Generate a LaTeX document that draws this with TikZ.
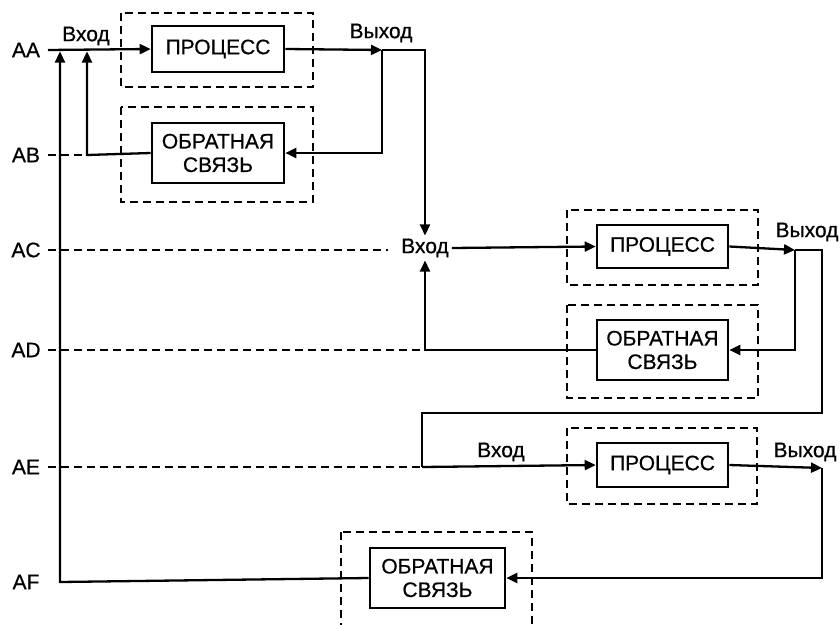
\documentclass[tikz,border=0pt]{standalone}
\usepackage{fontspec}
\setmainfont{Liberation Sans}[FakeBold=0.6]
\usetikzlibrary{arrows.meta}
\begin{document}
\begin{tikzpicture}[x=1pt,y=-1pt,
  every node/.style={font=\fontsize{21}{23}\selectfont},
  lbl/.style={inner sep=0pt},
  blockbox/.style={draw,line width=2.6pt,minimum width=132pt,align=center,inner sep=0pt,font=\fontsize{21}{23.5}\selectfont},
  frame/.style={draw,dash pattern=on 8pt off 5pt,line width=2pt},
  conn/.style={line width=2.3pt},
  dline/.style={line width=2pt,dash pattern=on 8pt off 5pt},
  tip/.style={-{Triangle[length=11pt,width=10pt]}}]
\useasboundingbox (0,0) rectangle (840,624);

% dashed frames round each block
\draw[frame] (121,13) rectangle (313,87);
\draw[frame] (121,107) rectangle (313,202);
\draw[frame] (567,210) rectangle (758,285);
\draw[frame] (567,305) rectangle (758,398);
\draw[frame] (567,428) rectangle (757,504);
\draw[frame] (341,532) rectangle (532,632);

% blocks
\node[blockbox,minimum height=46pt,fill=white] (p1) at (218,49) {ПРОЦЕСС};
\node[blockbox,minimum height=60pt,fill=white] (f1) at (218,153) {ОБРАТНАЯ\\СВЯЗЬ};
\node[blockbox,minimum width=131pt,minimum height=43pt,fill=white] (p2) at (662.5,246.5) {ПРОЦЕСС};
\node[blockbox,minimum width=131pt,minimum height=60pt,fill=white] (f2) at (662.5,350) {ОБРАТНАЯ\\СВЯЗЬ};
\node[blockbox,minimum width=131pt,minimum height=44pt,fill=white] (p3) at (662.5,465) {ПРОЦЕСС};
\node[blockbox,minimum width=135pt,minimum height=60pt,fill=white] (f3) at (437.5,578) {ОБРАТНАЯ\\СВЯЗЬ};

% row labels
\node[lbl] (la) at (26,50) {AA};
\node[lbl] (lb) at (26,155) {AB};
\node[lbl] (lc) at (26,250) {AC};
\node[lbl] (ld) at (26,350) {AD};
\node[lbl] (le) at (26,467) {AE};
\node[lbl] (lf) at (26,582) {AF};

% input / output labels
\node[lbl] (in1) at (86,36) {Вход};
\node[lbl] (out1) at (381,33) {Выход};
\node[lbl,inner sep=3pt] (in2) at (425,248) {Вход};
\node[lbl] (out2) at (807,232) {Выход};
\node[lbl] (in3) at (501,452) {Вход};
\node[lbl] (out3) at (805,452) {Выход};

% junction points
\coordinate (a0) at (48,50);
\coordinate (b0) at (48,155);
\coordinate (c0) at (48,250);
\coordinate (d0) at (48,350);
\coordinate (e0) at (48,467);
\coordinate (j1) at (382,50);
\coordinate (j2) at (795,250);
\coordinate (j3) at (822,468);
\coordinate (e1) at (422,467);
\coordinate (c1) at (388,250);

% first stage
\draw[conn,tip] (a0) -- (p1.west);
\draw[conn,tip] (p1.east) -- (j1);
\draw[conn,tip] (j1) -- (425,50) -- (in2.north);
\draw[conn,tip] (j1) |- (f1.east);
\draw[conn,tip] (f1.west) -- (87,155) -- (87,51.5);
\draw[dline] (b0) -- (87,155);

% second stage
\draw[dline] (c0) -- (c1);
\draw[conn,tip] (in2.east) -- (p2.west);
\draw[conn,tip] (p2.east) -- (j2);
\draw[conn] (j2) -- (822,250) -- (822,413) -- (422,413) -- (e1);
\draw[conn,tip] (j2) |- (f2.east);
\draw[conn,tip] (f2.west) -- (425,350) -- (in2.south);
\draw[dline] (d0) -- (425,350);

% third stage
\draw[dline] (e0) -- (e1);
\draw[conn,tip] (e1) -- (p3.west);
\draw[conn,tip] (p3.east) -- (j3);
\draw[conn,tip] (j3) |- (f3.east);
\draw[conn,tip] (f3.west) -- (60,582) -- (60,51.5);
\end{tikzpicture}
\end{document}
